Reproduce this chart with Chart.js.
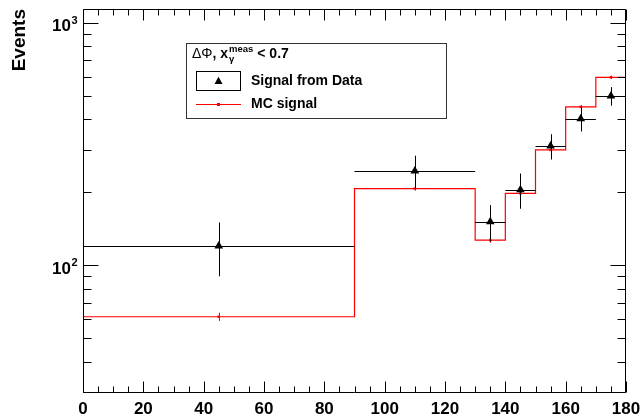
<!DOCTYPE html>
<html><head><meta charset="utf-8">
<script src="https://cdn.jsdelivr.net/npm/chart.js@4.4.1/dist/chart.umd.min.js"></script>
<style>html,body{margin:0;padding:0;background:#fff}</style>
</head><body>
<canvas id="c" width="643" height="417" style="display:block;width:643px;height:417px"></canvas>
<script>
// ---- data ----
const binEdges   = [0, 90, 130, 140, 150, 160, 170, 180];
const binCenters = [45, 110, 135, 145, 155, 165, 175];
const dataValues = [120, 245, 151, 205, 310, 402, 499];
const dataErrors = [30, 38, 26, 34, 37, 46, 44];
const mcValues   = [61.3, 207, 127, 198, 299, 450, 596];
const mcErrors   = [2.4, 4, 3, 4, 6, 8, 10];
const xTickValues = [0, 20, 40, 60, 80, 100, 120, 140, 160, 180];
const yTickValues = [100, 1000];
const yTickBase = ['10', '10'];
const yTickExp  = ['2', '3'];
const yAxisTitle = 'Events';
const legendEntries = ['Signal from Data', 'MC signal'];

const FONT = '"Liberation Sans", Arial, Helvetica, sans-serif';

const mcStep = binEdges.map((e, i) => ({x: e, y: mcValues[Math.min(i, mcValues.length - 1)]}));
const mcPts = binCenters.map((c, i) => ({x: c, y: mcValues[i]}));
const dataPts = binCenters.map((c, i) => ({x: c, y: dataValues[i]}));

function drawTriangle(ctx, cx, cy, r) {
  ctx.beginPath();
  ctx.moveTo(cx, cy - r);
  ctx.lineTo(cx + r * 0.95, cy + r * 0.7);
  ctx.lineTo(cx - r * 0.95, cy + r * 0.7);
  ctx.closePath();
  ctx.fill();
}

const rootPlugin = {
  id: 'rootStyle',
  beforeDraw(chart) {
    const ctx = chart.ctx;
    ctx.save();
    ctx.fillStyle = '#fff';
    ctx.fillRect(0, 0, chart.width, chart.height);
    ctx.restore();
  },
  beforeDatasetDraw(chart, args) {
    const {ctx, scales: {x, y}} = chart;
    ctx.save();
    ctx.lineWidth = 1;
    if (args.index === 1) {
      ctx.strokeStyle = '#ff0000';
      binCenters.forEach((c, i) => {
        const px = Math.round(x.getPixelForValue(c)) + 0.5;
        ctx.beginPath();
        ctx.moveTo(px, y.getPixelForValue(mcValues[i] - mcErrors[i]));
        ctx.lineTo(px, y.getPixelForValue(mcValues[i] + mcErrors[i]));
        ctx.stroke();
      });
    }
    if (args.index === 2) {
      ctx.strokeStyle = '#000';
      binCenters.forEach((c, i) => {
        const px = Math.round(x.getPixelForValue(c)) + 0.5;
        const py = Math.round(y.getPixelForValue(dataValues[i])) + 0.5;
        ctx.beginPath();
        ctx.moveTo(x.getPixelForValue(binEdges[i]), py);
        ctx.lineTo(x.getPixelForValue(binEdges[i + 1]), py);
        ctx.moveTo(px, y.getPixelForValue(dataValues[i] + dataErrors[i]));
        ctx.lineTo(px, y.getPixelForValue(dataValues[i] - dataErrors[i]));
        ctx.stroke();
      });
    }
    ctx.restore();
  },
  afterDraw(chart) {
    const {ctx, chartArea: a, scales: {x, y}} = chart;
    const L = Math.floor(a.left) + 0.5, R = Math.ceil(a.right) - 0.5;
    const T = Math.floor(a.top) + 0.5, B = Math.floor(a.bottom) + 0.5;
    ctx.save();
    ctx.strokeStyle = '#000';
    ctx.lineWidth = 1;
    ctx.beginPath();
    ctx.moveTo(L, T); ctx.lineTo(R, T); ctx.lineTo(R, B); ctx.lineTo(L, B); ctx.closePath();
    ctx.stroke();
    // x ticks (bottom and top)
    ctx.beginPath();
    for (let v = x.min; v <= x.max; v += 5) {
      const len = (v % 20 === 0) ? 11 : 6;
      const px = Math.round(x.getPixelForValue(v)) + 0.5;
      ctx.moveTo(px, B); ctx.lineTo(px, B - len);
      ctx.moveTo(px, T); ctx.lineTo(px, T + len);
    }
    // y ticks (left and right)
    for (let dec = 10; dec <= 1000; dec *= 10) {
      for (let m = 1; m <= 9; m++) {
        const v = dec * m;
        if (v < y.min - 1e-9 || v > y.max) continue;
        const len = (m === 1) ? 15 : 8;
        const py = Math.round(y.getPixelForValue(v)) + 0.5;
        ctx.moveTo(L, py); ctx.lineTo(L + len, py);
        ctx.moveTo(R, py); ctx.lineTo(R - len, py);
      }
    }
    ctx.stroke();

    // y tick labels with superscript exponent
    ctx.fillStyle = '#000';
    ctx.textBaseline = 'alphabetic';
    yTickValues.forEach((v, i) => {
      const py = y.getPixelForValue(v);
      ctx.font = 'bold 11px ' + FONT;
      const ew = ctx.measureText(yTickExp[i]).width;
      const ex = 77.5 - ew;
      ctx.textAlign = 'left';
      ctx.fillText(yTickExp[i], ex, py + 1.2);
      ctx.font = 'bold 17px ' + FONT;
      ctx.textAlign = 'right';
      ctx.fillText(yTickBase[i], ex - 0.5, py + 8.4);
    });

    // legend
    ctx.textAlign = 'left';
    ctx.strokeStyle = '#333';
    ctx.strokeRect(186.5, 43.5, 260, 75);
    ctx.fillStyle = '#000';
    ctx.textBaseline = 'alphabetic';
    let tx = 192; const ty = 58;
    ctx.font = '14px ' + FONT;
    ctx.fillText('\u0394\u03A6', tx, ty); tx += ctx.measureText('\u0394\u03A6').width;
    ctx.font = 'bold 14px ' + FONT;
    ctx.fillText(', x', tx, ty); tx += ctx.measureText(', x').width;
    ctx.font = 'bold 9.5px ' + FONT;
    ctx.fillText('meas', tx + 1, ty - 6);
    ctx.fillText('\u03B3', tx + 1, ty + 4);
    tx += ctx.measureText('meas').width + 1;
    ctx.font = 'bold 14px ' + FONT;
    ctx.fillText(' < 0.7', tx, ty);

    ctx.strokeStyle = '#000';
    ctx.strokeRect(196.5, 71.5, 44, 19);
    drawTriangle(ctx, 218.5, 81, 4.2);
    ctx.font = 'bold 14px ' + FONT;
    ctx.textBaseline = 'middle';
    ctx.fillText(legendEntries[0], 251, 81);
    ctx.strokeStyle = '#ff0000';
    ctx.beginPath(); ctx.moveTo(196, 104.5); ctx.lineTo(241, 104.5); ctx.stroke();
    ctx.fillStyle = '#ff0000';
    ctx.fillRect(217, 103, 3, 3);
    ctx.fillStyle = '#000';
    ctx.fillText(legendEntries[1], 251, 104.5);
    ctx.restore();
  }
};

new Chart(document.getElementById('c'), {
  data: {
    datasets: [
      { type: 'line', data: mcStep, stepped: 'before', borderColor: '#ff0000', borderWidth: 1.2,
        pointRadius: 0, fill: false, order: 3 },
      { type: 'scatter', data: mcPts, pointStyle: 'rect', pointRadius: 1.8,
        backgroundColor: '#ff0000', borderColor: '#ff0000', borderWidth: 0, order: 2 },
      { type: 'scatter', data: dataPts, pointStyle: 'triangle', pointRadius: 5,
        backgroundColor: '#000', borderColor: '#000', borderWidth: 0, order: 1 }
    ]
  },
  options: {
    responsive: false,
    animation: false,
    devicePixelRatio: 1,
    layout: { padding: { left: 0, top: 9, right: 17, bottom: 0 } },
    plugins: { legend: { display: false }, tooltip: { enabled: false } },
    scales: {
      x: {
        type: 'linear', min: 0, max: 180,
        grid: { display: false }, border: { display: false },
        afterBuildTicks: s => { s.ticks = xTickValues.map(v => ({value: v})); },
        afterFit: s => { s.height = 25; },
        ticks: { color: '#000', padding: -1, maxRotation: 0, autoSkip: false,
                 font: { family: FONT, size: 17, weight: 'bold' },
                 callback: v => String(v) }
      },
      y: {
        type: 'logarithmic', min: 30, max: 1140,
        grid: { display: false }, border: { display: false },
        afterBuildTicks: s => { s.ticks = yTickValues.map(v => ({value: v})); },
        afterFit: s => { s.width = 83; },
        ticks: { display: false },
        title: { display: true, text: yAxisTitle, align: 'end', color: '#000',
                 font: { family: FONT, size: 19, weight: 'bold' }, padding: { top: 8, bottom: 0 } }
      }
    }
  },
  plugins: [rootPlugin]
});
</script>
</body></html>
